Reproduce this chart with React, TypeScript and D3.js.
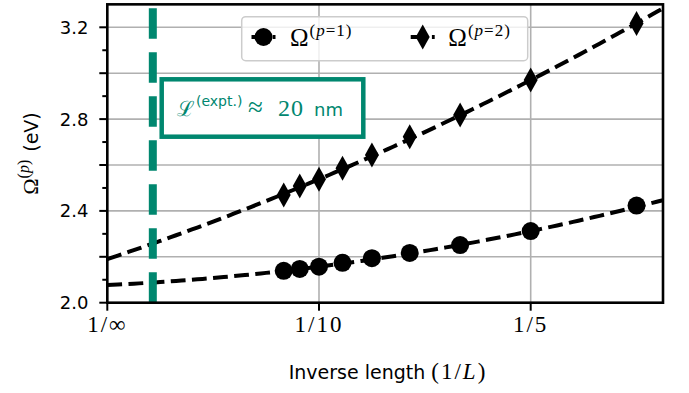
import React, { useEffect, useRef } from "react";
import * as d3 from "d3";

// inverse lengths 1/L for L = 12 ... 4
const inverseL = [1 / 12, 1 / 11, 1 / 10, 1 / 9, 1 / 8, 1 / 7, 1 / 6, 1 / 5, 1 / 4];
const omegaP1 = [2.139, 2.147, 2.157, 2.174, 2.194, 2.217, 2.251, 2.312, 2.423];
const omegaP2 = [2.469, 2.508, 2.538, 2.586, 2.644, 2.723, 2.818, 2.97, 3.217];
// quadratic fit coefficients a + b x + c x^2 (dashed lines)
const fitP1 = [2.077, 0.425, 3.75];
const fitP2 = [2.19, 3.06, 4.2];
const xTicks = [0, 0.1, 0.2];
const xTickLabels = ["1/∞", "1/10", "1/5"];
const yMajor = [2.0, 2.4, 2.8, 3.2];
const yGrid = [2.0, 2.2, 2.4, 2.6, 2.8, 3.0, 3.2];
const yMinor = [2.1, 2.3, 2.5, 2.7, 2.9, 3.1];
const exptInverseL = 0.0215;

const TEAL = "#00876f";
const SANS = "'DejaVu Sans', sans-serif";
const SERIF = "'Liberation Serif', 'DejaVu Serif', serif";

function App() {
  const ref = useRef<SVGSVGElement>(null);

  useEffect(() => {
    const svg = d3.select(ref.current);
    svg.selectAll("*").remove();

    const left = 107.3, right = 663, top = 4.35, bottom = 302.7;
    const x = d3.scaleLinear().domain([0, 0.2625]).range([left, right]);
    const y = d3.scaleLinear().domain([2.0, 3.3]).range([bottom, top]);

    svg.append("defs").append("clipPath").attr("id", "plotclip")
      .append("rect").attr("x", left).attr("y", top)
      .attr("width", right - left).attr("height", bottom - top);

    // grid
    const grid = svg.append("g").attr("stroke", "#b0b0b0").attr("stroke-width", 1.6);
    yGrid.forEach(v => {
      grid.append("line").attr("x1", left).attr("x2", right).attr("y1", y(v)).attr("y2", y(v));
    });
    xTicks.forEach(v => {
      grid.append("line").attr("x1", x(v)).attr("x2", x(v)).attr("y1", top).attr("y2", bottom);
    });

    const plot = svg.append("g").attr("clip-path", "url(#plotclip)");

    // fit curves
    const xs = d3.range(0, 0.2626, 0.0025);
    const poly = (c: number[]) => (t: number) => c[0] + c[1] * t + c[2] * t * t;
    const line = d3.line<number[]>().x(d => x(d[0])).y(d => y(d[1]));
    [fitP1, fitP2].forEach(c => {
      const f = poly(c);
      plot.append("path")
        .attr("d", line(xs.map(t => [t, f(t)])))
        .attr("fill", "none").attr("stroke", "black")
        .attr("stroke-width", 4).attr("stroke-dasharray", "14.8,6.4");
    });

    // markers
    plot.selectAll("circle.p1").data(inverseL).join("circle")
      .attr("class", "p1")
      .attr("cx", d => x(d)).attr("cy", (d, i) => y(omegaP1[i]))
      .attr("r", 9).attr("fill", "black");

    const diamond = (cx: number, cy: number) =>
      `M${cx},${cy - 12.5}L${cx + 7},${cy}L${cx},${cy + 12.5}L${cx - 7},${cy}Z`;
    plot.selectAll("path.p2").data(inverseL).join("path")
      .attr("class", "p2")
      .attr("d", (d, i) => diamond(x(d), y(omegaP2[i])))
      .attr("fill", "black");

    // experimental length marker
    plot.append("line")
      .attr("x1", x(exptInverseL)).attr("x2", x(exptInverseL))
      .attr("y1", bottom).attr("y2", top)
      .attr("stroke", TEAL).attr("stroke-width", 8)
      .attr("stroke-dasharray", "30.5,13.5");

    // annotation box
    svg.append("rect").attr("x", 161.7).attr("y", 79.3).attr("width", 201.6).attr("height", 57.4)
      .attr("fill", "white").attr("stroke", TEAL).attr("stroke-width", 4.5);
    const ann = svg.append("text").attr("y", 116).attr("fill", TEAL)
      .style("font-family", SERIF).style("font-size", "24px");
    ann.append("tspan").attr("x", 177).style("font-family", "'DejaVu Serif', serif").style("font-size", "21px").text("\u2112");
    ann.append("tspan").attr("x", 196).attr("dy", -10).style("font-family", SANS).style("font-size", "14px").text("(expt.)");
    ann.append("tspan").attr("x", 248).attr("dy", 10).style("font-size", "27px").text("≈");
    ann.append("tspan").attr("x", 278).attr("letter-spacing", 1).text("20");
    ann.append("tspan").attr("x", 314).style("font-family", SANS).style("font-size", "18px").text("nm");

    // axes spines
    svg.append("rect").attr("x", left).attr("y", top)
      .attr("width", right - left).attr("height", bottom - top)
      .attr("fill", "none").attr("stroke", "black").attr("stroke-width", 2.6);

    // ticks
    const ax = svg.append("g").attr("stroke", "black").attr("stroke-width", 2);
    yGrid.forEach(v => ax.append("line").attr("x1", left - 8).attr("x2", left).attr("y1", y(v)).attr("y2", y(v)));
    yMinor.forEach(v => ax.append("line").attr("x1", left - 5).attr("x2", left).attr("y1", y(v)).attr("y2", y(v)));
    xTicks.forEach(v => ax.append("line").attr("x1", x(v)).attr("x2", x(v)).attr("y1", bottom).attr("y2", bottom + 8));

    svg.selectAll("text.ytick").data(yMajor).join("text")
      .attr("class", "ytick")
      .attr("x", 88.5).attr("y", d => y(d) + 6.5)
      .attr("text-anchor", "end")
      .style("font-family", SANS).style("font-size", "18px")
      .text(d => d.toFixed(1));

    svg.selectAll("text.xtick").data(xTicks).join("text")
      .attr("class", "xtick")
      .attr("x", d => x(d)).attr("y", 332)
      .attr("text-anchor", "middle")
      .attr("letter-spacing", 2)
      .style("font-family", SERIF).style("font-size", "23px")
      .text((d, i) => xTickLabels[i]);

    // x label
    const xl = svg.append("text").attr("x", 387).attr("y", 379).attr("text-anchor", "middle")
      .style("font-family", SANS).style("font-size", "19px");
    xl.append("tspan").text("Inverse length ");
    xl.append("tspan").attr("letter-spacing", 2).style("font-family", SERIF).style("font-size", "23px").text("(1/");
    xl.append("tspan").style("font-family", SERIF).style("font-size", "23px").style("font-style", "italic").text("L");
    xl.append("tspan").attr("dx", 2).style("font-family", SERIF).style("font-size", "23px").text(")");

    // y label
    const yl = svg.append("text")
      .attr("transform", `translate(38,${(top + bottom) / 2}) rotate(-90)`)
      .attr("text-anchor", "middle")
      .style("font-family", SERIF).style("font-size", "22px");
    yl.append("tspan").text("Ω");
    yl.append("tspan").attr("dy", -9).style("font-size", "16px").text("(");
    yl.append("tspan").style("font-size", "16px").style("font-style", "italic").text("p");
    yl.append("tspan").style("font-size", "16px").text(")");
    yl.append("tspan").attr("dy", 9).attr("dx", 8).style("font-family", SANS).style("font-size", "19px").text("(eV)");

    // legend
    const lg = svg.append("g");
    lg.append("rect").attr("x", 241.7).attr("y", 16.7).attr("width", 286).attr("height", 44).attr("rx", 4)
      .attr("fill", "white").attr("fill-opacity", 0.8).attr("stroke", "#cccccc").attr("stroke-width", 1.5);
    const entries = [
      { cx: 263.5, tx: 290, label: "=1)", kind: "circle" },
      { cx: 422.7, tx: 448.3, label: "=2)", kind: "diamond" },
    ];
    entries.forEach(e => {
      lg.append("line").attr("x1", e.cx - 12).attr("x2", e.cx + 12).attr("y1", 37).attr("y2", 37)
        .attr("stroke", "black").attr("stroke-width", 4).attr("stroke-dasharray", "14.8,6.4");
      if (e.kind === "circle") {
        lg.append("circle").attr("cx", e.cx).attr("cy", 37).attr("r", 9).attr("fill", "black");
      } else {
        lg.append("path").attr("d", diamond(e.cx, 37)).attr("fill", "black");
      }
      const t = lg.append("text").attr("x", e.tx).attr("y", 45.5)
        .style("font-family", SERIF).style("font-size", "25px");
      t.append("tspan").text("Ω");
      t.append("tspan").attr("dy", -10).attr("dx", 1).attr("letter-spacing", 1).style("font-size", "17px").text("(");
      t.append("tspan").attr("letter-spacing", 1).style("font-size", "17px").style("font-style", "italic").text("p");
      t.append("tspan").attr("letter-spacing", 1).style("font-size", "17px").text(e.label);
    });
  }, []);

  return (
    <svg ref={ref} width={689} height={393}
      style={{ position: "absolute", left: 0, top: 0, background: "white" }} />
  );
}

export default App;
